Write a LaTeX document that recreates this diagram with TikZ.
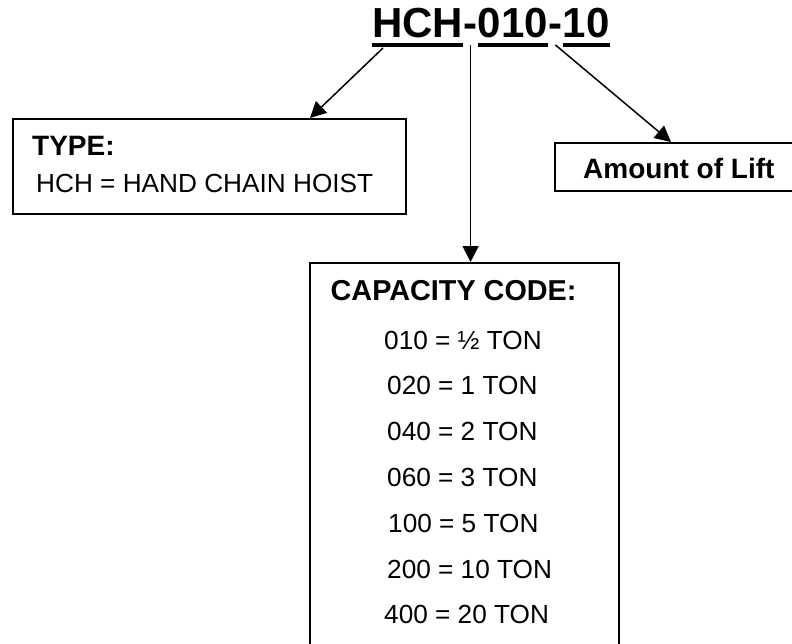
\documentclass[tikz,border=0pt]{standalone}
\usepackage{fontspec}
\setmainfont{Liberation Sans}
\usetikzlibrary{arrows.meta}

\begin{document}
\begin{tikzpicture}[x=1pt, y=-1pt,
  box/.style={draw, line width=1.9pt, inner sep=0pt, anchor=north west},
  lbl/.style={inner sep=0pt, anchor=base west},
  titlepart/.style={lbl, font=\fontsize{42}{50}\selectfont\bfseries},
  head/.style={lbl, font=\fontsize{28}{34}\selectfont\bfseries},
  entry/.style={lbl, font=\fontsize{26.2}{31}\selectfont},
  pointer/.style={-{Triangle[length=16pt, width=16pt]}, line width=1.5pt},
  uline/.style={line width=4pt}]
\useasboundingbox (0,0) rectangle (792,643);

% Model number
\node[titlepart] (hch) at (372,37) {HCH};
\node[titlepart] (dashA) at (hch.base east) {-};
\node[titlepart] (cap) at (dashA.base east) {010};
\node[titlepart] (dashB) at (cap.base east) {-};
\node[titlepart] (lift) at (dashB.base east) {10};
\foreach \part in {hch, cap, lift}
  \draw[uline] ([yshift=-8pt]\part.base west) -- ([yshift=-8pt]\part.base east);

% Boxes
\node[box, minimum width=393pt, minimum height=95pt] (typebox) at (12,118) {};
\node[box, minimum width=260pt, minimum height=48pt] (liftbox) at (554,142) {};
\node[box, minimum width=309pt, minimum height=400pt] (capbox) at (309,262) {};

% Type
\node[head] (typehead) at (32,155) {TYPE:};
\node[entry] (typeline) at (36,192) {HCH = HAND CHAIN HOIST};

% Amount of lift
\node[head] (lifthead) at (583,178) {Amount of Lift};

% Capacity code
\node[head, font=\fontsize{28.8}{34}\selectfont\bfseries] (caphead) at (330.5,300) {CAPACITY CODE:};
\foreach \xpos/\code/\ton [count=\i] in {384/010/½, 387/020/1, 387/040/2, 387/060/3, 388/100/5, 387/200/10, 384/400/20}
  \node[entry] (row\i) at (\xpos, 349+45.8*\i-45.8) {\code{} = \ton{} TON};

% Arrows
\draw[pointer] ([xshift=11pt, yshift=-11pt]hch.base west) -- ([xshift=298pt]typebox.north west);
\draw[pointer] ([yshift=-8pt]dashA.base) -- (dashA.base |- capbox.north);
\draw[pointer] ([yshift=-8pt]dashB.base) -- ([xshift=117pt]liftbox.north west);
\end{tikzpicture}
\end{document}
